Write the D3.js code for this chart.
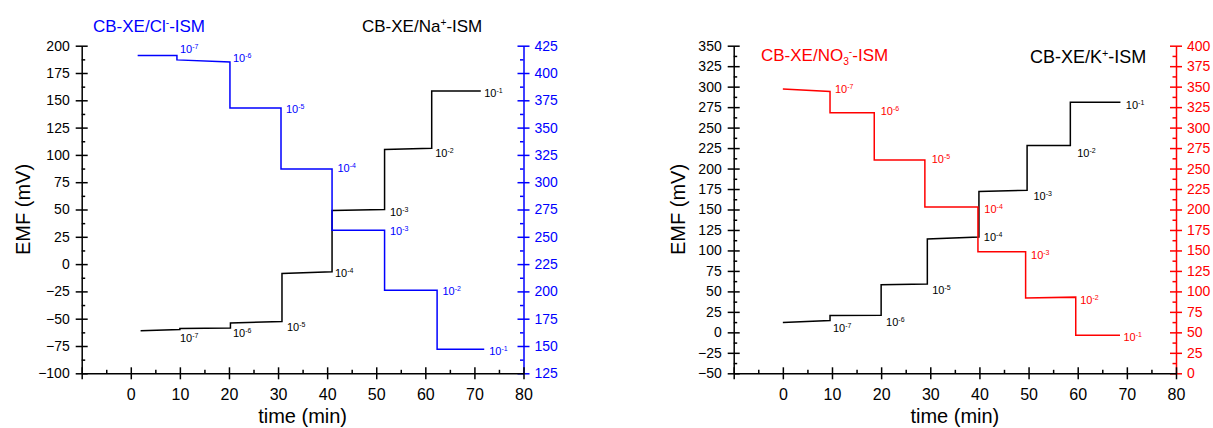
<!DOCTYPE html>
<html>
<head>
<meta charset="utf-8">
<script src="https://cdn.jsdelivr.net/npm/d3@7"></script>
<style>
  body { margin: 0; background: #fff; }
  svg { display: block; font-family: "Liberation Sans", Arial, sans-serif; }
</style>
</head>
<body>
<svg id="chart" width="1213" height="428"></svg>
<script>
// ---- data ----
// left panel: Na+ (black, left axis) and Cl- (blue, right axis)
const naTime = [2, 10, 10, 20.3, 20.3, 30.8, 30.8, 41, 41, 51.7, 51.7, 61.3, 61.3, 71.3];
const naEmf  = [-61, -60, -59, -58.5, -54, -52.5, -8.5, -7, 49, 50, 105, 106, 158.5, 158.5];
const clTime = [1.4, 9.4, 9.4, 20.2, 20.2, 30.6, 30.6, 41, 41, 51.7, 51.7, 62.4, 62.4, 72];
const clEmf  = [416, 416, 412, 410, 368, 368, 312, 312, 256, 256, 201, 201, 147, 147];

// right panel: K+ (black, left axis) and NO3- (red, right axis)
const kTime   = [0, 9.6, 9.6, 20, 20, 29.4, 29.4, 39.9, 39.9, 49.7, 49.7, 58.5, 58.5, 68.7];
const kEmf    = [12, 14.5, 20.5, 21, 58, 59, 114, 116.5, 172, 173.5, 228, 228, 281, 281];
const no3Time = [0, 9.6, 9.6, 18.6, 18.6, 28.9, 28.9, 39.7, 39.7, 49.4, 49.4, 59.6, 59.6, 68.6];
const no3Emf  = [347, 344, 318, 318, 260.5, 260.5, 203, 203, 148.5, 148.5, 92, 93, 46.5, 46.5];

// concentration labels (10^x) and where they sit (time, emf)
const concExp = ["-7", "-6", "-5", "-4", "-3", "-2", "-1"];
const naLabTime  = [10, 20.8, 31.8, 41.6, 52.8, 62, 72];
const naLabEmf   = [-67.7, -63, -57.6, -8, 47.7, 102, 156.4];
const clLabTime  = [10, 20.8, 31.6, 42.1, 52.8, 63.5, 73];
const clLabEmf   = [422, 413.5, 367, 313, 255.6, 200.4, 145.4];
const kLabTime   = [10.2, 21, 30.4, 40.9, 51, 59.9, 69.8];
const kLabEmf    = [4.9, 13, 51.7, 116.8, 166.8, 219.4, 277.6];
const no3LabTime = [10.6, 19.9, 30.3, 41, 50.5, 60.5, 69.3];
const no3LabEmf  = [346.8, 320.6, 261.3, 200.2, 144.4, 89.5, 44.7];

// axis ticks
const timeTicks = [-10, 0, 10, 20, 30, 40, 50, 60, 70, 80];
const emfTicksA = [-100, -75, -50, -25, 0, 25, 50, 75, 100, 125, 150, 175, 200];
const clTicks   = [125, 150, 175, 200, 225, 250, 275, 300, 325, 350, 375, 400, 425];
const emfTicksB = [-50, -25, 0, 25, 50, 75, 100, 125, 150, 175, 200, 225, 250, 275, 300, 325, 350];
const no3Ticks  = [0, 25, 50, 75, 100, 125, 150, 175, 200, 225, 250, 275, 300, 325, 350, 375, 400];

const svg = d3.select("#chart");
const zip = (a, b) => a.map((t, i) => ({t: t, v: b[i]}));
const mids = arr => arr.slice(1).map((v, i) => (v + arr[i]) / 2);

const panels = [
  {
    xr: [81.7, 523.5], yr: [373.3, 45.7],
    leftDom: [-100, 200], rightDom: [125, 425],
    leftTicks: emfTicksA, rightTicks: clTicks,
    accent: "#0000ff",
    black: zip(naTime, naEmf), colored: zip(clTime, clEmf),
    blackLab: zip(naLabTime, naLabEmf), colLab: zip(clLabTime, clLabEmf),
    colTitle: {x: 93, y: 32, size: 17, parts: [["CB-XE/Cl", 0], ["-", 1], ["-ISM", 0]]},
    blkTitle: {x: 362, y: 32, size: 17, parts: [["CB-XE/Na", 0], ["+", 1], ["-ISM", 0]]},
    emfX: 30
  },
  {
    xr: [733.7, 1176], yr: [373.3, 45.7],
    leftDom: [-50, 350], rightDom: [0, 400],
    leftTicks: emfTicksB, rightTicks: no3Ticks,
    accent: "#ff0000",
    black: zip(kTime, kEmf), colored: zip(no3Time, no3Emf),
    blackLab: zip(kLabTime, kLabEmf), colLab: zip(no3LabTime, no3LabEmf),
    colTitle: {x: 761, y: 61, size: 17, parts: [["CB-XE/NO", 0], ["3", -1], ["-", 1], ["-ISM", 0]]},
    blkTitle: {x: 1030, y: 63, size: 18, parts: [["CB-XE/K", 0], ["+", 1], ["-ISM", 0]]},
    emfX: 685
  }
];

function styleAxis(g, color, size) {
  g.attr("font-family", null).attr("font-size", size);
  g.select(".domain").attr("stroke", color).attr("stroke-width", 1.5);
  g.selectAll(".tick line").attr("stroke", color).attr("stroke-width", 1.5);
  g.selectAll(".tick text").attr("fill", color);
}

function writeParts(sel, parts, size) {
  let shift = 0;
  parts.forEach(p => {
    const target = p[1] === 1 ? -6 : p[1] === -1 ? 4 : 0;
    sel.append("tspan")
      .attr("dy", target - shift)
      .attr("font-size", p[1] ? size * 0.6 : size)
      .text(p[0]);
    shift = target;
  });
}

panels.forEach(p => {
  const x = d3.scaleLinear().domain([-10, 80]).range(p.xr);
  const yL = d3.scaleLinear().domain(p.leftDom).range(p.yr);
  const yR = d3.scaleLinear().domain(p.rightDom).range(p.yr);
  const g = svg.append("g");

  // minor ticks (inside)
  g.append("g").attr("transform", `translate(0,${p.yr[0]})`)
    .call(d3.axisBottom(x).tickValues(mids(timeTicks)).tickSize(-3.5).tickFormat("").tickSizeOuter(0))
    .call(a => { styleAxis(a, "#000", 14); a.select(".domain").remove(); });
  g.append("g").attr("transform", `translate(${p.xr[0]},0)`)
    .call(d3.axisLeft(yL).tickValues(mids(p.leftTicks)).tickSize(-3.5).tickFormat("").tickSizeOuter(0))
    .call(a => { styleAxis(a, "#000", 14); a.select(".domain").remove(); });
  g.append("g").attr("transform", `translate(${p.xr[1]},0)`)
    .call(d3.axisRight(yR).tickValues(mids(p.rightTicks)).tickSize(-3.5).tickFormat("").tickSizeOuter(0))
    .call(a => { styleAxis(a, p.accent, 14); a.select(".domain").remove(); });

  // right axis (coloured)
  g.append("g").attr("transform", `translate(${p.xr[1]},0)`)
    .call(d3.axisRight(yR).tickValues(p.rightTicks).tickSize(6).tickPadding(5).tickSizeOuter(0))
    .call(a => {
      styleAxis(a, p.accent, 14);
      a.selectAll(".tick line").attr("x1", -6);
    });

  // left axis
  g.append("g").attr("transform", `translate(${p.xr[0]},0)`)
    .call(d3.axisLeft(yL).tickValues(p.leftTicks).tickSize(6).tickPadding(6).tickSizeOuter(0))
    .call(a => {
      styleAxis(a, "#000", 14);
      a.selectAll(".tick line").attr("x1", 6);
    });

  // x axis
  g.append("g").attr("transform", `translate(0,${p.yr[0]})`)
    .call(d3.axisBottom(x).tickValues(timeTicks).tickSize(6).tickPadding(9).tickSizeOuter(0)
      .tickFormat(d => d < 0 ? "" : d))
    .call(a => {
      styleAxis(a, "#000", 16);
      a.selectAll(".tick line").attr("y1", -6);
    });

  // step curves
  const lineL = d3.line().x(d => x(d.t)).y(d => yL(d.v));
  const lineR = d3.line().x(d => x(d.t)).y(d => yR(d.v));
  g.append("path").datum(p.black).attr("d", lineL)
    .attr("fill", "none").attr("stroke", "#000").attr("stroke-width", 1.5);
  g.append("path").datum(p.colored).attr("d", lineR)
    .attr("fill", "none").attr("stroke", p.accent).attr("stroke-width", 1.5);

  // concentration labels
  const addLab = (data, yS, color) => {
    data.forEach((d, i) => {
      const t = g.append("text").attr("x", x(d.t)).attr("y", yS(d.v) + 4)
        .attr("fill", color).attr("font-size", 11);
      t.append("tspan").text("10");
      t.append("tspan").attr("dy", -4).attr("font-size", 7).text(concExp[i]);
    });
  };
  addLab(p.blackLab, yL, "#000");
  addLab(p.colLab, yR, p.accent);

  // titles
  writeParts(g.append("text").attr("x", p.colTitle.x).attr("y", p.colTitle.y)
    .attr("fill", p.accent).attr("font-size", p.colTitle.size), p.colTitle.parts, p.colTitle.size);
  writeParts(g.append("text").attr("x", p.blkTitle.x).attr("y", p.blkTitle.y)
    .attr("fill", "#000").attr("font-size", p.blkTitle.size), p.blkTitle.parts, p.blkTitle.size);

  // axis titles
  g.append("text").attr("x", (p.xr[0] + p.xr[1]) / 2).attr("y", 423)
    .attr("text-anchor", "middle").attr("font-size", 20).text("time (min)");
  g.append("text")
    .attr("transform", `translate(${p.emfX},${(p.yr[0] + p.yr[1]) / 2}) rotate(-90)`)
    .attr("text-anchor", "middle").attr("font-size", 20).text("EMF (mV)");
});
</script>
</body>
</html>
